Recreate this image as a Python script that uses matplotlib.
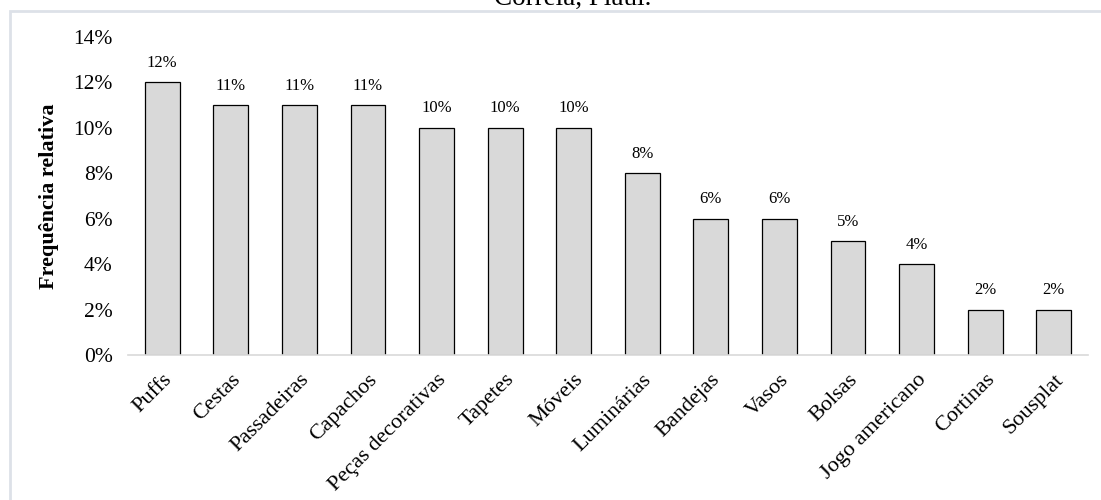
import numpy as np
import matplotlib.pyplot as plt
from matplotlib.patches import Rectangle

categorias = ['Puffs', 'Cestas', 'Passadeiras', 'Capachos', 'Peças decorativas',
              'Tapetes', 'Móveis', 'Luminárias', 'Bandejas', 'Vasos', 'Bolsas',
              'Jogo americano', 'Cortinas', 'Sousplat']
frequencia = [12, 11, 11, 11, 10, 10, 10, 8, 6, 6, 5, 4, 2, 2]
yticks = [0, 2, 4, 6, 8, 10, 12, 14]

plt.rcParams['font.family'] = ['Liberation Serif', 'DejaVu Serif']

fig = plt.figure(figsize=(11.01, 5.0), dpi=100)
ax = fig.add_axes([128/1101, 1-355/500, (1088-128)/1101, (355-37)/500])

x = np.arange(len(categorias))
ax.bar(x, frequencia, width=0.51, color='#d9d9d9', edgecolor='black', linewidth=0.9)

# rótulos de valor
for xi, v in zip(x, frequencia):
    ax.text(xi, v + 0.5, '%d%%' % v, ha='center', va='bottom', fontsize=12)

ax.set_xlim(-0.5, len(categorias) - 0.5)
ax.set_ylim(0, 14)
ax.set_yticks(yticks)
ax.set_yticklabels(['%d%%' % t for t in yticks], fontsize=15.5)
ax.set_xticks(x)
ax.set_xticklabels(categorias, rotation=45, ha='right', rotation_mode='anchor', fontsize=16)
ax.tick_params(axis='both', length=0)
ax.tick_params(axis='y', pad=11)
ax.tick_params(axis='x', pad=11)

for s in ['top', 'right', 'left']:
    ax.spines[s].set_visible(False)
ax.spines['bottom'].set_color('#d9d9d9')
ax.spines['bottom'].set_linewidth(1.2)

ax.set_ylabel('Frequência relativa', fontsize=16, fontweight='bold', labelpad=10)

# moldura do gráfico
fig.add_artist(Rectangle((9.5/1101, -0.1), 1.2, 1 - 10.5/500 + 0.1,
                         transform=fig.transFigure, fill=False,
                         edgecolor='#dde1e8', linewidth=2))

# legenda cortada no topo (como no original)
fig.text(573/1101, 1 - 5/500, 'Correia, Piauí.', ha='center', va='baseline', fontsize=19.5)

fig.savefig('out.png', dpi=100)
